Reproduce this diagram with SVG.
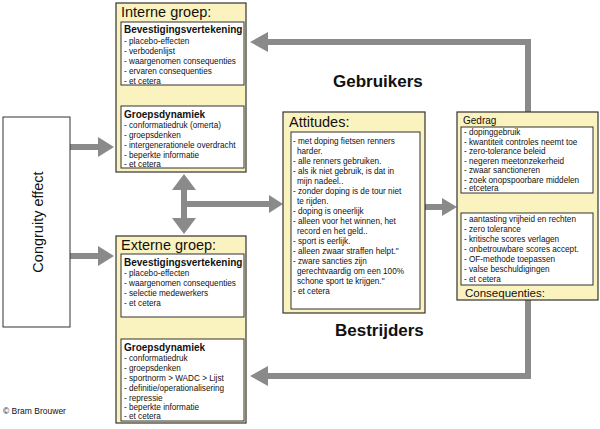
<svg xmlns="http://www.w3.org/2000/svg" width="600" height="429" viewBox="0 0 600 429">
<style>
text{font-family:"Liberation Sans",Arial,sans-serif;fill:#111}
.outer{fill:#fbf3bf;stroke:#333;stroke-width:1.2}
.inner{fill:#fff;stroke:#333;stroke-width:1}
.t{font-size:14.5px}
.h{font-size:10px;font-weight:bold}
.l{font-size:8.2px}
.c{fill:none;stroke:#8a8a8a;stroke-width:6}
.ar{fill:#8a8a8a}
.big{font-size:17px;font-weight:bold}
</style>
<rect width="600" height="429" fill="#fff"/>
<g id="connectors">
<path class="c" d="M528 112V42H266"/><path class="ar" d="M250 42l18-10v20z"/>
<path class="c" d="M528 300V376H266"/><path class="ar" d="M250 376l18-10v20z"/>
<path class="c" d="M70 147H100"/><path class="ar" d="M114 147l-16-10v20z"/>
<path class="c" d="M70 256H100"/><path class="ar" d="M114 256l-16-10v20z"/>
<path class="c" d="M184 188V220"/><path class="ar" d="M184 174l-12 16h24z"/><path class="ar" d="M184 234l-12-16h24z"/>
<path class="c" d="M184 204H270"/><path class="ar" d="M283 204l-14-9v18z"/>
<path class="c" d="M425 207H443"/><path class="ar" d="M457 207l-15-9v18z"/>
<path d="M184 90V100M184 322V332M527 199V207" stroke="#8a8a8a" stroke-width="3"/>
<path class="ar" d="M184 86l-5 6h10zM184 104l-5-6h10zM184 318l-5 6h10zM184 336l-5-6h10zM527 195l-5 6h10zM527 211l-5-6h10z"/>
</g>
<g id="congruity"><rect x="3" y="117" width="67" height="210" fill="#fff" stroke="#333"/>
<text transform="translate(43 222) rotate(-90)" text-anchor="middle" font-size="14.5">Congruity effect</text></g>
<g id="interne">
<rect class="outer" x="116" y="3" width="130" height="169"/>
<text class="t" x="121" y="17">Interne groep:</text>
<rect class="inner" x="121" y="22" width="123" height="63"/>
<text class="h" x="124" y="33">Bevestigingsvertekening</text>
<text class="l" x="124"><tspan x="124" y="44">- placebo-effecten</tspan><tspan x="124" y="54">- verbodenlijst</tspan><tspan x="124" y="64">- waargenomen consequenties</tspan><tspan x="124" y="74">- ervaren consequenties</tspan><tspan x="124" y="84">- et cetera</tspan></text>
<rect class="inner" x="121" y="106" width="123" height="62"/>
<text class="h" x="124" y="118">Groepsdynamiek</text>
<text class="l"><tspan x="124" y="128">- conformatiedruk (omerta)</tspan><tspan x="124" y="138">- groepsdenken</tspan><tspan x="124" y="148">- intergenerationele overdracht</tspan><tspan x="124" y="158">- beperkte informatie</tspan><tspan x="124" y="167">- et cetera</tspan></text>
</g>
<g id="externe">
<rect class="outer" x="116" y="236" width="130" height="187"/>
<text class="t" x="121" y="250">Externe groep:</text>
<rect class="inner" x="121" y="254" width="123" height="63"/>
<text class="h" x="124" y="266">Bevestigingsvertekening</text>
<text class="l"><tspan x="124" y="276">- placebo-effecten</tspan><tspan x="124" y="286">- waargenomen consequenties</tspan><tspan x="124" y="296">- selectie medewerkers</tspan><tspan x="124" y="306">- et cetera</tspan></text>
<rect class="inner" x="121" y="339" width="123" height="82"/>
<text class="h" x="124" y="351">Groepsdynamiek</text>
<text class="l"><tspan x="124" y="361">- conformatiedruk</tspan><tspan x="124" y="371">- groepsdenken</tspan><tspan x="124" y="381">- sportnorm &gt; WADC &gt; Lijst</tspan><tspan x="124" y="391">- definitie/operationalisering</tspan><tspan x="124" y="401">- repressie</tspan><tspan x="124" y="410">- beperkte informatie</tspan><tspan x="124" y="419">- et cetera</tspan></text>
</g>
<g id="attitudes">
<rect class="outer" x="283" y="112" width="142" height="201"/>
<text class="t" x="289" y="127">Attitudes:</text>
<rect class="inner" x="291" y="132" width="129" height="177"/>
<text class="l"><tspan x="293" y="144">- met doping fietsen renners</tspan><tspan x="297" y="154">harder.</tspan><tspan x="293" y="164">- alle renners gebruiken.</tspan><tspan x="293" y="174">- als ik niet gebruik, is dat in</tspan><tspan x="297" y="184">mijn nadeel..</tspan><tspan x="293" y="194">- zonder doping is de tour niet</tspan><tspan x="297" y="204">te rijden.</tspan><tspan x="293" y="214">- doping is oneerlijk</tspan><tspan x="293" y="224">- alleen voor het winnen, het</tspan><tspan x="297" y="234">record en het geld..</tspan><tspan x="293" y="244">- sport is eerlijk.</tspan><tspan x="293" y="254">- alleen zwaar straffen helpt."</tspan><tspan x="293" y="264">- zware sancties zijn</tspan><tspan x="297" y="274">gerechtvaardig om een 100%</tspan><tspan x="297" y="284">schone sport te krijgen."</tspan><tspan x="293" y="294">- et cetera</tspan></text>
</g>
<g id="gedrag">
<rect class="outer" x="457" y="112" width="141" height="188"/>
<text x="463" y="124" font-size="10">Gedrag</text>
<rect class="inner" x="461" y="127" width="132" height="66"/>
<text class="l"><tspan x="464" y="135">- dopinggebruik</tspan><tspan x="464" y="144.5">- kwantiteit controles neemt toe</tspan><tspan x="464" y="154">- zero-tolerance beleid</tspan><tspan x="464" y="163.5">- negeren meetonzekerheid</tspan><tspan x="464" y="173">- zwaar sanctioneren</tspan><tspan x="464" y="182.5">- zoek onopspoorbare middelen</tspan><tspan x="464" y="191">- etcetera</tspan></text>
<rect class="inner" x="461" y="213" width="132" height="72"/>
<text class="l"><tspan x="464" y="222">- aantasting vrijheid en rechten</tspan><tspan x="464" y="232">- zero tolerance</tspan><tspan x="464" y="242">- kritische scores verlagen</tspan><tspan x="464" y="252">- onbetrouwbare scores accept.</tspan><tspan x="464" y="262">- OF-methode toepassen</tspan><tspan x="464" y="272">- valse beschuldigingen</tspan><tspan x="464" y="282">- et cetera</tspan></text>
<text x="465" y="297" font-size="11.5">Consequenties:</text>
</g>
<text class="big" x="333" y="87">Gebruikers</text>
<text class="big" x="335" y="336">Bestrijders</text>
<text x="3" y="414" font-size="8.5">© Bram Brouwer</text>
</svg>
